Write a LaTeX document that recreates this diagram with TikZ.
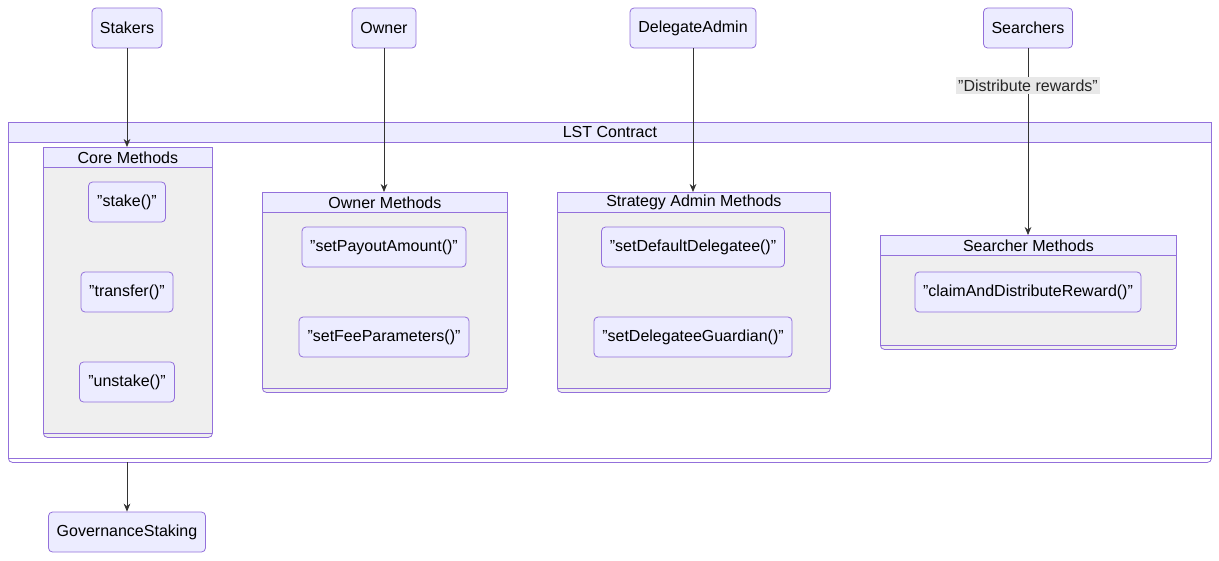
\documentclass[tikz,border=0pt]{standalone}
\usepackage{fontspec}
\setmainfont{Liberation Sans}
\usetikzlibrary{arrows.meta,positioning}

\definecolor{nodefill}{HTML}{ECECFF}
\definecolor{nodeline}{HTML}{9370DB}
\definecolor{groupfill}{HTML}{EFEFEF}
\definecolor{labelfill}{HTML}{E8E8E8}
\newcommand\dq{\symbol{34}}

\tikzset{
  box/.style={draw=nodeline,fill=nodefill,rounded corners=3pt,line width=0.6pt,
    inner sep=0pt,minimum height=30pt,font=\fontsize{12}{14}\selectfont},
  group/.style={draw=nodeline,fill=groupfill,rounded corners=3pt,line width=0.6pt,
    inner sep=0pt,anchor=north west},
  head/.style={draw=nodeline,fill=nodefill,line width=0.6pt,inner sep=0pt,
    minimum height=15pt,anchor=north west,font=\fontsize{12}{14}\selectfont},
  flow/.style={-{Stealth[length=6pt,width=5pt]},line width=0.6pt,draw=black!80}
}

\begin{document}
\begin{tikzpicture}[x=0.75pt,y=-0.75pt]
\useasboundingbox (0,0) rectangle (1219,560);

% outer contract
\node[group,fill=white,minimum width=1203*0.75pt,minimum height=340*0.75pt] (lst) at (8,122) {};
\node[head,minimum width=1203*0.75pt] (lsthead) at (8,122) {LST Contract};
\draw[nodeline,line width=0.6pt] (8,458) -- (1211,458);

% method groups
\node[group,minimum width=169*0.75pt,minimum height=290*0.75pt] (core) at (43,147) {};
\node[head,minimum width=169*0.75pt] (corehead) at (43,147) {Core Methods};
\draw[nodeline,line width=0.6pt] (43,433) -- (212,433);

\node[group,minimum width=245*0.75pt,minimum height=200*0.75pt] (owngrp) at (262,192) {};
\node[head,minimum width=245*0.75pt] (ownhead) at (262,192) {Owner Methods};
\draw[nodeline,line width=0.6pt] (262,388) -- (507,388);

\node[group,minimum width=273*0.75pt,minimum height=200*0.75pt] (stratgrp) at (557,192) {};
\node[head,minimum width=273*0.75pt] (strathead) at (557,192) {Strategy Admin Methods};
\draw[nodeline,line width=0.6pt] (557,388) -- (830,388);

\node[group,minimum width=296*0.75pt,minimum height=114*0.75pt] (searchgrp) at (880,235) {};
\node[head,minimum width=296*0.75pt] (searchhead) at (880,235) {Searcher Methods};
\draw[nodeline,line width=0.6pt] (880,345) -- (1176,345);

% method nodes
\node[box,minimum width=77*0.75pt] (stake) at (127,202) {\dq stake()\dq};
\node[box,minimum width=92*0.75pt] (transfer) at (127,292) {\dq transfer()\dq};
\node[box,minimum width=95*0.75pt] (unstake) at (127,382) {\dq unstake()\dq};
\node[box,minimum width=164*0.75pt] (payout) at (384,247) {\dq setPayoutAmount()\dq};
\node[box,minimum width=170*0.75pt] (fee) at (384,337) {\dq setFeeParameters()\dq};
\node[box,minimum width=183*0.75pt] (defdel) at (693,247) {\dq setDefaultDelegatee()\dq};
\node[box,minimum width=198*0.75pt] (guardian) at (693,337) {\dq setDelegateeGuardian()\dq};
\node[box,minimum width=226*0.75pt] (claim) at (1028,292) {\dq claimAndDistributeReward()\dq};

% actors
\node[box,minimum width=70*0.75pt] (stakers) at (127,28) {Stakers};
\node[box,minimum width=64*0.75pt] (owner) at (384,28) {Owner};
\node[box,minimum width=126*0.75pt] (deladmin) at (693,28) {DelegateAdmin};
\node[box,minimum width=89*0.75pt] (searchers) at (1028,28) {Searchers};
\node[box,minimum width=157*0.75pt] (govstaking) at (127,532) {GovernanceStaking};

% connectors
\draw[flow] (stakers) -- (corehead.north -| stakers);
\draw[flow] (owner) -- (ownhead.north -| owner);
\draw[flow] (deladmin) -- (strathead.north -| deladmin);
\draw[flow] (searchers) -- node[pos=0.2,fill=labelfill,inner sep=2pt,font=\fontsize{12}{14}\selectfont,text=black!85] (rewardlbl) {\dq Distribute rewards\dq} (searchhead.north -| searchers);
\coordinate (lstout) at (127,462);
\draw[flow] (lstout) -- (govstaking);
\end{tikzpicture}
\end{document}
